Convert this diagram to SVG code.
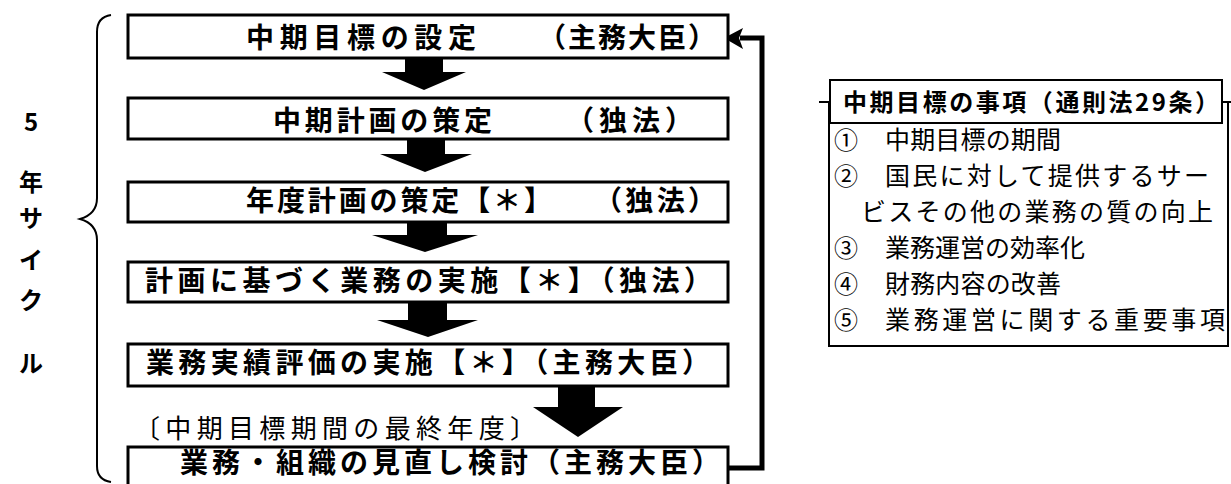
<svg xmlns="http://www.w3.org/2000/svg" width="1231" height="484" viewBox="0 0 1231 484">
<style>
.box{fill:#fff;stroke:#000;stroke-width:3}
.bt{font-family:"Noto Sans CJK JP","Noto Sans CJK SC",sans-serif;font-weight:bold;font-size:28px;fill:#000}
.nt{font-family:"Noto Sans CJK JP","Noto Sans CJK SC",sans-serif;font-size:26px;fill:#000}
.lt{font-family:"Noto Sans CJK JP","Noto Sans CJK SC",sans-serif;font-size:25px;fill:#000}
.num{font-family:"Noto Sans CJK JP","Noto Sans CJK SC",sans-serif;font-size:24px;fill:#000}
.side{font-family:"Noto Sans CJK JP","Noto Sans CJK SC",sans-serif;font-weight:bold;font-size:24px;fill:#000;text-anchor:middle}
.thin{fill:none;stroke:#000;stroke-width:2}
.arr{fill:#000}
</style>
<rect width="1231" height="484" fill="#fff"/>
<g id="cycle-label">
<path class="thin" d="M111,15 Q97,17 97,32 L97,198 Q97,214 80,219 Q97,224 97,240 L97,466 Q97,480 111,482"/>
<text class="side" x="31" y="131">5</text>
<text class="side" x="31" y="191">年</text>
<text class="side" x="31" y="227">サ</text>
<text class="side" x="31" y="269">イ</text>
<text class="side" x="31" y="309">ク</text>
<text class="side" x="31" y="372">ル</text>
</g>
<g id="connectors">
<polygon class="arr" points="405,59 443,59 443,72 466,72 424,90 382,72 405,72"/>
<polygon class="arr" points="407,140 445,140 445,154 472,154 425,172 380,154 407,154"/>
<polygon class="arr" points="407,223 447,223 447,235 478,235 425,252 372,235 407,235"/>
<polygon class="arr" points="408,303 447,303 447,320 478,320 428,337 377,320 408,320"/>
<polygon class="arr" points="558,387 595,387 595,407 623,407 578,437 533,407 558,407"/>
<path d="M728,468 H762 V38 H740" fill="none" stroke="#000" stroke-width="5"/>
<polygon class="arr" points="724,38 743,28 739,38 743,49"/>
</g>
<g id="node1">
<rect class="box" x="128" y="15" width="600" height="43"/>
<text class="bt" x="246" y="48" textLength="230" lengthAdjust="spacing">中期目標の設定</text>
<text class="bt" x="538" y="48" textLength="178" lengthAdjust="spacing">（主務大臣）</text>
</g>
<g id="node2">
<rect class="box" x="128" y="98" width="600" height="41"/>
<text class="bt" x="273" y="131" textLength="219" lengthAdjust="spacing">中期計画の策定</text>
<text class="bt" x="566" y="131" textLength="127" lengthAdjust="spacing">（独法）</text>
</g>
<g id="node3">
<rect class="box" x="128" y="182" width="600" height="40"/>
<text class="bt" x="246" y="211" textLength="306" lengthAdjust="spacing">年度計画の策定【＊】</text>
<text class="bt" x="594" y="211" textLength="122" lengthAdjust="spacing">（独法）</text>
</g>
<g id="node4">
<rect class="box" x="128" y="262" width="600" height="40"/>
<text class="bt" x="145" y="291" textLength="567" lengthAdjust="spacing">計画に基づく業務の実施【＊】（独法）</text>
</g>
<g id="node5">
<rect class="box" x="128" y="344" width="600" height="42"/>
<text class="bt" x="146" y="373" textLength="564" lengthAdjust="spacing">業務実績評価の実施【＊】（主務大臣）</text>
</g>
<g id="final-year-label">
<text class="nt" x="134" y="438" textLength="402" lengthAdjust="spacing">〔中期目標期間の最終年度〕</text>
</g>
<g id="node6">
<rect class="box" x="128" y="447" width="600" height="40"/>
<text class="bt" x="180" y="473" textLength="540" lengthAdjust="spacing">業務・組織の見直し検討（主務大臣）</text>
</g>
<g id="items-box">
<path class="thin" d="M819,102 H1231 M829,102 V346 H1228 V102"/>
<rect x="830" y="80" width="392" height="43" fill="#fff" stroke="#000" stroke-width="2"/>
<text class="bt" x="843" y="111" textLength="376" lengthAdjust="spacing" style="font-size:24px">中期目標の事項（通則法29条）</text>
<text class="num" x="834" y="149">①</text>
<text class="lt" x="885" y="149" textLength="176" lengthAdjust="spacing">中期目標の期間</text>
<text class="num" x="834" y="185">②</text>
<text class="lt" x="885" y="185" textLength="324" lengthAdjust="spacing">国民に対して提供するサー</text>
<text class="lt" x="861" y="221" textLength="352" lengthAdjust="spacing">ビスその他の業務の質の向上</text>
<text class="num" x="834" y="257">③</text>
<text class="lt" x="885" y="257" textLength="200" lengthAdjust="spacing">業務運営の効率化</text>
<text class="num" x="834" y="293">④</text>
<text class="lt" x="885" y="293" textLength="176" lengthAdjust="spacing">財務内容の改善</text>
<text class="num" x="834" y="329">⑤</text>
<text class="lt" x="885" y="329" textLength="340" lengthAdjust="spacing">業務運営に関する重要事項</text>
</g>
</svg>
